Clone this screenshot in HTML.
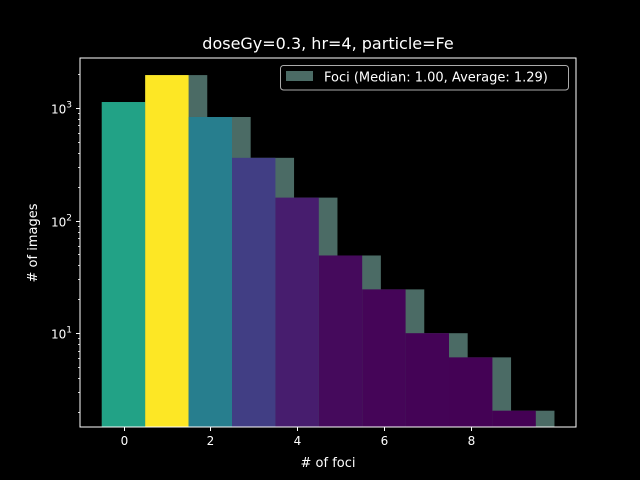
<!DOCTYPE html>
<html><head><meta charset="utf-8"><style>
html,body{margin:0;padding:0;background:#000;}
svg{display:block;font-family:"DejaVu Sans","Liberation Sans",sans-serif;}
</style></head><body>
<svg id="chart" width="640" height="480" viewBox="0 0 640 480">
<rect width="640" height="480" fill="#000"/>
<g id="bars"></g>
<g id="axes"></g>
<text x="328" y="49" fill="#fff" font-size="16" text-anchor="middle">doseGy=0.3, hr=4, particle=Fe</text>
<text x="328" y="467" fill="#fff" font-size="13" text-anchor="middle"># of foci</text>
<text transform="translate(37,243) rotate(-90)" fill="#fff" font-size="13" text-anchor="middle"># of images</text>
<g>
<rect x="280.5" y="65.5" width="288" height="24.5" rx="3" fill="#000" stroke="#aaa" stroke-width="1"/>
<rect x="286" y="71" width="27" height="10" fill="#4b6b65"/>
<text x="324" y="81.5" fill="#fff" font-size="13">Foci (Median: 1.00, Average: 1.29)</text>
</g>
</svg>
<script>
const categories = [0,1,2,3,4,5,6,7,8,9];
const counts = [1130,1960,832,361,160,49,24.5,10,6.1,2.05];
const xTicks = [0,2,4,6,8];
const yTicks = [1,2,3];

const L=80,R=576,T=58,B=427;
const x0px=123.5, xUnit=43.4;
const X=v=>x0px+v*xUnit;
const yDec=112.6, y1000=108;
const Y=v=>y1000-(Math.log10(v)-3)*yDec;
const NS='http://www.w3.org/2000/svg';
const bars=document.getElementById('bars'), axes=document.getElementById('axes');
function mk(tag,attrs,parent){const e=document.createElementNS(NS,tag);for(const k in attrs)e.setAttribute(k,attrs[k]);parent.appendChild(e);return e;}
const vir=[[68,1,84],[72,35,116],[64,67,135],[52,94,141],[41,120,142],[32,144,140],[34,167,132],[68,190,112],[121,209,81],[189,222,38],[253,231,37]];
function viridis(t){t=Math.max(0,Math.min(1,t))*10;const i=Math.min(9,Math.floor(t)),f=t-i;const a=vir[i],b=vir[i+1];return 'rgb('+a.map((c,k)=>Math.round(c+(b[k]-c)*f)).join(',')+')';}
const maxC=Math.max(...counts);
categories.forEach((c,i)=>{
  const g=mk('rect',{x:X(c-0.5),y:Y(counts[i]),width:X(c+0.93)-X(c-0.5),height:B-Y(counts[i]),fill:'#4b6b65'},bars);
  
  
});
categories.forEach((c,i)=>{
  const r=mk('rect',{x:X(c-0.5),y:Y(counts[i]),width:X(c+0.5)-X(c-0.5),height:B-Y(counts[i]),fill:viridis(counts[i]/maxC)},bars);
  
  
});
const fr=mk('rect',{x:L,y:T,width:R-L,height:B-T,fill:'none',stroke:'#fff','stroke-width':1},axes);


xTicks.forEach(t=>{
  const px=Math.round(X(t))+0.5;
  mk('line',{x1:px,x2:px,y1:B,y2:B+4,stroke:'#fff'},axes);
  const tx=mk('text',{x:px,y:B+18,fill:'#fff','font-size':12,'text-anchor':'middle'},axes);
  tx.textContent=t;
  
  
});
yTicks.forEach(p=>{
  const py=Math.round(Y(Math.pow(10,p)))+0.5;
  mk('line',{x1:L-4,x2:L,y1:py,y2:py,stroke:'#fff'},axes);
  const tx=mk('text',{x:L-8,y:py+5,fill:'#fff','font-size':12,'text-anchor':'end'},axes);
  tx.innerHTML='10<tspan dy="-6" font-size="9">'+p+'</tspan>';
  
  
});
for(let p=0;p<=3;p++)for(let m=2;m<=9;m++){
  const v=m*Math.pow(10,p);const py=Y(v);
  if(py<T||py>B)continue;
  mk('line',{x1:L-2,x2:L,y1:Math.round(py)+0.5,y2:Math.round(py)+0.5,stroke:'#fff','stroke-width':0.8},axes);
}
</script>
</body></html>
